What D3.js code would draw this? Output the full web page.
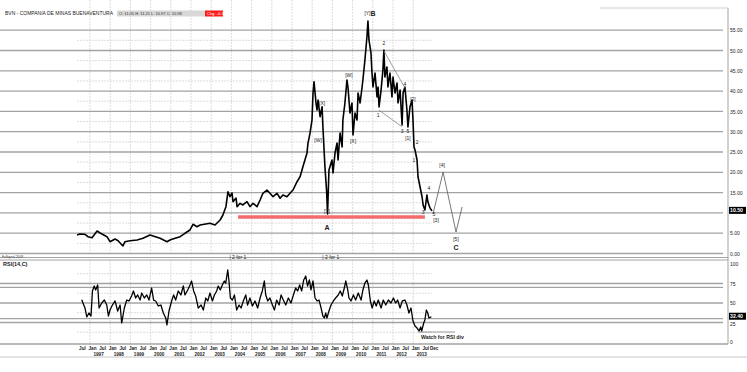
<!DOCTYPE html>
<html><head><meta charset="utf-8">
<script src="https://cdn.jsdelivr.net/npm/d3@7"></script>
<style>
body{margin:0;background:#fff}
svg{display:block}
text{font-family:"Liberation Sans",Arial,sans-serif}
</style>
</head><body><svg id="c" width="747" height="372"></svg>
<script>
// ---------- data ----------
const priceYear = [1996.36,1996.50,1996.75,1996.90,1997.10,1997.35,1997.50,1997.84,1997.99,1998.24,1998.39,1998.63,1998.73,1998.98,1999.33,1999.62,1999.97,2000.12,2000.47,2000.81,2000.96,2001.21,2001.46,2001.70,2001.95,2002.10,2002.30,2002.45,2002.94,2003.19,2003.44,2003.58,2003.73,2003.83,2003.93,2004.03,2004.08,2004.23,2004.28,2004.43,2004.57,2004.77,2004.92,2005.07,2005.27,2005.42,2005.56,2005.76,2005.91,2006.06,2006.26,2006.41,2006.55,2006.75,2006.90,2007.05,2007.25,2007.40,2007.54,2007.74,2007.79,2007.89,2007.99,2008.04,2008.09,2008.19,2008.24,2008.29,2008.39,2008.49,2008.53,2008.63,2008.71,2008.76,2008.83,2008.98,2009.03,2009.13,2009.23,2009.28,2009.38,2009.48,2009.52,2009.62,2009.72,2009.77,2009.87,2009.97,2010.02,2010.12,2010.22,2010.27,2010.37,2010.47,2010.51,2010.61,2010.71,2010.76,2010.81,2010.91,2010.96,2011.01,2011.11,2011.21,2011.26,2011.31,2011.41,2011.50,2011.55,2011.60,2011.70,2011.75,2011.85,2011.95,2012.00,2012.10,2012.20,2012.25,2012.35,2012.45,2012.50,2012.59,2012.69,2012.74,2012.84,2012.94,2012.99,2013.04,2013.09,2013.19,2013.24,2013.34,2013.44,2013.49,2013.58,2013.68,2013.73,2013.83,2013.93];
const priceClose = [4.56,4.80,4.73,4.14,3.89,5.54,5.05,4.14,2.91,3.57,3.15,1.85,2.91,3.15,3.33,3.74,4.56,4.31,3.74,2.91,3.33,3.74,4.14,4.98,5.79,7.19,6.60,7.02,7.44,7.02,8.25,9.48,11.53,15.22,13.99,14.90,12.76,13.67,11.53,12.36,11.95,12.76,11.53,12.36,11.53,13.18,14.83,15.64,14.83,13.99,14.83,13.60,14.41,13.99,14.83,15.64,17.68,18.92,21.38,24.68,27.14,29.61,32.88,39.46,42.32,37.00,35.34,37.81,33.69,36.16,31.23,21.38,15.64,9.73,20.57,23.03,19.83,24.75,27.22,23.03,29.68,26.23,32.88,37.07,42.73,41.01,34.61,37.07,29.19,34.61,32.88,39.53,37.07,41.01,42.73,47.66,53.33,57.27,52.59,49.38,44.46,41.01,44.46,38.55,41.01,36.08,40.27,45.20,50.12,43.47,45.94,41.01,44.46,38.55,43.47,39.53,41.99,37.07,40.27,31.65,39.53,41.01,35.34,31.16,36.08,37.81,32.88,26.23,25.49,23.03,18.84,16.38,13.92,11.95,10.71,14.41,12.68,11.21,10.50];

const rsiYear = [1996.59,1996.75,1996.84,1996.95,1997.05,1997.12,1997.21,1997.28,1997.38,1997.45,1997.58,1997.71,1997.83,1997.91,1997.99,1998.11,1998.24,1998.37,1998.49,1998.57,1998.70,1998.82,1998.93,1999.06,1999.15,1999.26,1999.36,1999.48,1999.56,1999.69,1999.81,1999.92,2000.05,2000.15,2000.25,2000.38,2000.51,2000.63,2000.75,2000.81,2000.91,2001.04,2001.14,2001.24,2001.37,2001.50,2001.62,2001.70,2001.84,2001.95,2002.03,2002.13,2002.23,2002.36,2002.50,2002.61,2002.73,2002.83,2002.94,2003.06,2003.16,2003.27,2003.35,2003.45,2003.55,2003.65,2003.72,2003.82,2003.88,2003.95,2004.05,2004.15,2004.26,2004.38,2004.48,2004.59,2004.71,2004.80,2004.92,2005.04,2005.17,2005.30,2005.42,2005.53,2005.63,2005.70,2005.80,2005.91,2006.03,2006.13,2006.24,2006.36,2006.46,2006.57,2006.69,2006.82,2006.95,2007.07,2007.18,2007.28,2007.38,2007.48,2007.58,2007.68,2007.77,2007.86,2007.94,2008.04,2008.14,2008.24,2008.34,2008.44,2008.53,2008.60,2008.67,2008.73,2008.83,2008.93,2009.05,2009.16,2009.29,2009.39,2009.49,2009.59,2009.66,2009.76,2009.82,2009.92,2010.04,2010.15,2010.28,2010.42,2010.51,2010.61,2010.71,2010.78,2010.88,2010.97,2011.07,2011.17,2011.27,2011.41,2011.52,2011.64,2011.77,2011.90,2012.02,2012.13,2012.23,2012.35,2012.46,2012.59,2012.69,2012.79,2012.89,2012.99,2013.09,2013.19,2013.29,2013.37,2013.42,2013.52,2013.58,2013.65,2013.72,2013.78,2013.90];
const rsiValue = [54.2,43.6,32.1,37.2,33.3,65.4,71.8,66.7,73.1,43.6,50.0,53.8,47.4,33.3,41.0,47.4,52.6,39.7,47.4,24.4,43.6,53.8,52.6,59.0,65.4,56.4,60.3,53.8,62.8,56.4,60.3,53.8,69.2,53.8,52.6,46.2,47.4,37.2,30.8,21.8,39.7,52.6,60.3,53.8,65.4,60.3,71.8,60.3,66.7,73.1,78.2,65.4,59.0,43.6,47.4,41.0,56.4,52.6,62.8,52.6,60.3,65.4,71.8,66.7,73.1,78.2,75.6,92.3,78.2,56.4,53.8,60.3,41.0,47.4,43.6,52.6,60.3,47.4,56.4,46.2,52.6,43.6,56.4,65.4,78.2,60.3,52.6,56.4,47.4,41.0,53.8,47.4,60.3,53.8,47.4,56.4,50.0,60.3,69.2,65.4,73.1,65.4,79.5,84.6,71.8,79.5,66.7,78.2,56.4,52.6,53.8,43.6,33.3,30.8,37.2,30.8,39.7,47.4,52.6,56.4,60.3,65.4,59.0,69.2,78.2,66.7,56.4,52.6,60.3,53.8,62.8,53.8,66.7,75.6,79.5,73.1,52.6,43.6,52.6,46.2,53.8,43.6,53.8,47.4,53.8,50.0,56.4,50.0,53.8,43.6,52.6,53.8,47.4,37.2,43.6,26.9,20.5,17.9,14.1,19.2,14.1,24.4,28.2,41.0,37.2,30.8,32.4];

const priceTicks = [0,5,10,15,20,25,30,35,40,45,50,55];
const priceMinor = [2.5,7.5,12.5,17.5,22.5,27.5,32.5,37.5,42.5,47.5,52.5];
const rsiTicks = [0,25,50,75,100];
const rsiLevels = [25,30,50,70,75];
const rsiMinor = [12.5,37.5,62.5,87.5];
const yearLabels = [1997,1998,1999,2000,2001,2002,2003,2004,2005,2006,2007,2008,2009,2010,2011,2012,2013];

const waveLabels = [
 {t:"[W]",yr:2008.29,v:27.7},{t:"[X]",yr:2008.49,v:36.8},{t:"[Y]",yr:2008.73,v:10.2},
 {t:"[W]",yr:2009.82,v:43.7},{t:"[X]",yr:2010.02,v:27.5},
 {t:"1",yr:2011.26,v:33.9},{t:"2",yr:2011.55,v:51.6},{t:"3",yr:2012.45,v:29.9},{t:"4",yr:2012.59,v:41.5},
 {t:"5",yr:2012.74,v:29.9},{t:"[1]",yr:2012.74,v:28.3},{t:"[2]",yr:2012.99,v:37.8},
 {t:"1",yr:2013.04,v:22.8},{t:"2",yr:2013.19,v:27.2},{t:"3",yr:2013.49,v:10.0},{t:"4",yr:2013.78,v:15.9},
 {t:"5",yr:2014.03,v:9.5},{t:"[3]",yr:2014.13,v:8.0},{t:"[4]",yr:2014.43,v:21.6},{t:"[5]",yr:2015.12,v:3.3}
];
const bigLabels = [{t:"A",yr:2008.73,v:6.2},{t:"C",yr:2015.12,v:1.4}];
const projYear = [2013.98,2014.48,2015.12,2015.42];
const projValue = [9.73,20.07,5.30,11.45];
const triUpper = [[2011.55,49.9],[2012.59,40.8]];
const triLower = [[2011.31,35.3],[2012.45,31.2]];
const supportLevel = 9.0, supportFrom = 2004.33, supportTo = 2013.58;
const rsiWatch = 12.8, rsiWatchFrom = 2013.24, rsiWatchTo = 2015.07;
const splitYears = [2003.9, 2008.5];

// ---------- drawing ----------
const svg = d3.select("#c");
const x = d3.scaleLinear().domain([1997,2013]).range([90,413.2]);
const y = d3.scaleLinear().domain([0,55]).range([253.5,30.2]);
const yr = d3.scaleLinear().domain([0,100]).range([342,264]);
const W = 723, AX = 728;
const dataX0 = x(d3.min(priceYear)), dataX1 = x(d3.max(priceYear));
const grey = "#a3a3a3";
const lastP = priceClose[priceClose.length-1];
const lastR = rsiValue[rsiValue.length-1];

// vertical dashed year grid
const vg = svg.append("g");
yearLabels.forEach(yy=>{
  vg.append("line").attr("x1",x(yy)).attr("x2",x(yy)).attr("y1",0).attr("y2",254)
    .attr("stroke","#d4d4d4").attr("stroke-dasharray","2,1").attr("stroke-width",0.8);
  vg.append("line").attr("x1",x(yy)).attr("x2",x(yy)).attr("y1",260).attr("y2",344)
    .attr("stroke","#d4d4d4").attr("stroke-dasharray","2,1").attr("stroke-width",0.8);
});
// minor dashed horizontal grid (only across data span)
priceMinor.forEach(v=>svg.append("line").attr("x1",dataX0).attr("x2",dataX1).attr("y1",y(v)).attr("y2",y(v))
  .attr("stroke","#d4d4d4").attr("stroke-dasharray","2,1").attr("stroke-width",0.8));
rsiMinor.forEach(v=>svg.append("line").attr("x1",dataX0).attr("x2",dataX1).attr("y1",yr(v)).attr("y2",yr(v))
  .attr("stroke","#d4d4d4").attr("stroke-dasharray","2,1").attr("stroke-width",0.8));

// main horizontal grid lines
priceTicks.forEach(v=>svg.append("line").attr("x1",0).attr("x2",W).attr("y1",y(v)).attr("y2",y(v))
  .attr("stroke",grey).attr("stroke-width",1.3));
rsiLevels.forEach(v=>svg.append("line").attr("x1",0).attr("x2",W).attr("y1",yr(v)).attr("y2",yr(v))
  .attr("stroke",grey).attr("stroke-width",1.3));
// panel separators
[257.5,260].forEach(yy=>svg.append("line").attr("x1",0).attr("x2",AX).attr("y1",yy).attr("y2",yy).attr("stroke",grey).attr("stroke-width",1));
svg.append("line").attr("x1",0).attr("x2",AX).attr("y1",344).attr("y2",344).attr("stroke",grey).attr("stroke-width",1.3);
svg.append("line").attr("x1",0).attr("x2",747).attr("y1",357).attr("y2",357).attr("stroke","#c8c8c8").attr("stroke-width",1);
svg.append("line").attr("x1",AX).attr("x2",AX).attr("y1",8).attr("y2",344).attr("stroke",grey).attr("stroke-width",1);
svg.append("line").attr("x1",600).attr("x2",AX).attr("y1",8).attr("y2",8).attr("stroke","#d0d0d0").attr("stroke-width",1);

// right axes (the 10.00 label is hidden under the last-price badge, as in the reference)
const ay = svg.append("g").attr("transform",`translate(${AX},0)`)
  .call(d3.axisRight(y).tickValues(priceTicks.filter(v=>Math.abs(y(v)-y(lastP))>5)).tickSize(0).tickPadding(2).tickFormat(d3.format(".2f")));
const ar = svg.append("g").attr("transform",`translate(${AX},0)`)
  .call(d3.axisRight(yr).tickValues(rsiTicks.filter(v=>Math.abs(yr(v)-yr(lastR))>5)).tickSize(0).tickPadding(2).tickFormat(d3.format("d")));
[ay,ar].forEach(g=>{g.select(".domain").remove(); g.selectAll("text").attr("font-size",5).attr("fill","#222");});
ar.selectAll(".tick").filter(d=>d===25).select("text").attr("dy","0.55em");

// bottom axis: month row
const monthTicks = [];
monthTicks.push({v:1996.5,t:"Jul"});
yearLabels.forEach(yy=>{monthTicks.push({v:yy,t:"Jan"}); monthTicks.push({v:yy+0.5,t:"Jul"});});
monthTicks.push({v:2013+11/12,t:"Dec"});
const ax = svg.append("g").attr("transform","translate(0,344)")
  .call(d3.axisBottom(x).tickValues(monthTicks.map(d=>d.v)).tickSize(0).tickPadding(3)
    .tickFormat((d,i)=>monthTicks[i].t));
ax.select(".domain").remove();
ax.selectAll("text").attr("font-size",4.6).attr("font-weight","bold").attr("fill","#222").attr("dx",2);
const ax2 = svg.append("g").attr("transform","translate(0,350)")
  .call(d3.axisBottom(x).tickValues(yearLabels.map(d=>d+0.4)).tickSize(0).tickPadding(3)
    .tickFormat((d,i)=>yearLabels[i]));
ax2.select(".domain").remove();
ax2.selectAll("text").attr("font-size",4.6).attr("font-weight","bold").attr("fill","#222");

// support line (red)
svg.append("line").attr("x1",x(supportFrom)).attr("x2",x(supportTo)).attr("y1",y(supportLevel)).attr("y2",y(supportLevel))
  .attr("stroke","#f36b6b").attr("stroke-width",3.5);

// price line
const pts = priceYear.map((d,i)=>[d,priceClose[i]]);
svg.append("path").datum(pts).attr("fill","none").attr("stroke","#000").attr("stroke-width",1.6)
  .attr("stroke-linejoin","round")
  .attr("d",d3.line().x(d=>x(d[0])).y(d=>y(d[1])));

// triangle lines
[triUpper,triLower].forEach(seg=>svg.append("path").datum(seg).attr("fill","none").attr("stroke","#777").attr("stroke-width",0.7)
  .attr("d",d3.line().x(d=>x(d[0])).y(d=>y(d[1]))));

// projection
svg.append("path").datum(projYear.map((d,i)=>[d,projValue[i]])).attr("fill","none").attr("stroke","#555").attr("stroke-width",0.8)
  .attr("d",d3.line().x(d=>x(d[0])).y(d=>y(d[1])));

// wave labels
waveLabels.forEach(d=>svg.append("text").attr("x",x(d.yr)).attr("y",y(d.v)).attr("text-anchor","middle")
  .attr("dominant-baseline","middle").attr("font-size",5).attr("fill","#222").text(d.t));
bigLabels.forEach(d=>svg.append("text").attr("x",x(d.yr)).attr("y",y(d.v)).attr("text-anchor","middle")
  .attr("dominant-baseline","middle").attr("font-size",7).attr("font-weight","bold").attr("fill","#222").text(d.t));
const yb = svg.append("text").attr("x",x(2010.86)).attr("y",y(58.9)).attr("text-anchor","middle").attr("dominant-baseline","middle").attr("fill","#222");
yb.append("tspan").attr("font-size",5).text("[Y]");
yb.append("tspan").attr("font-size",7).attr("font-weight","bold").text("B");

// RSI
const rp = rsiYear.map((d,i)=>[d,rsiValue[i]]);
svg.append("path").datum(rp).attr("fill","none").attr("stroke","#000").attr("stroke-width",1.3).attr("stroke-linejoin","round")
  .attr("d",d3.line().x(d=>x(d[0])).y(d=>yr(d[1])));
svg.append("line").attr("x1",x(rsiWatchFrom)).attr("x2",x(rsiWatchTo)).attr("y1",yr(rsiWatch)).attr("y2",yr(rsiWatch))
  .attr("stroke","#666").attr("stroke-width",0.7);
svg.append("text").attr("x",x(rsiWatchFrom)+3).attr("y",yr(rsiWatch)+7).attr("font-size",5.2).attr("font-weight","bold").attr("fill","#222").text("Watch for RSI div");

// split markers
splitYears.forEach(s=>{
  svg.append("text").attr("x",x(s)).attr("y",259.2).attr("font-size",5).attr("fill","#222").text("| 2 for 1");
});

// header
svg.append("text").attr("x",5).attr("y",15).attr("font-size",4.7).attr("fill","#222").attr("textLength",108).attr("lengthAdjust","spacingAndGlyphs").text("BVN - COMPANIA DE MINAS BUENAVENTURA");
svg.append("rect").attr("x",117).attr("y",10.5).attr("width",88).attr("height",6).attr("fill","#d8d8d8");
svg.append("text").attr("x",119).attr("y",15.3).attr("font-size",4).attr("fill","#333").text("O: 11.05   H: 11.21   L: 10.97   C: 10.98");
svg.append("rect").attr("x",205).attr("y",10.5).attr("width",18).attr("height",6).attr("fill","#ff1a1a");
svg.append("text").attr("x",207).attr("y",15.3).attr("font-size",4).attr("fill","#fff").text("Chg: -0.11");

// left small label / RSI label
svg.append("text").attr("x",2).attr("y",258).attr("font-size",3.3).attr("fill","#444").text("FxSignal 2009");
svg.append("text").attr("x",3).attr("y",266).attr("font-size",5.5).attr("font-weight","bold").attr("fill","#222").text("RSI(14,C)");

// last-value badges
svg.append("rect").attr("x",AX+1).attr("y",y(lastP)-4).attr("width",17).attr("height",7).attr("fill","#000");
svg.append("text").attr("x",AX+2).attr("y",y(lastP)+1.6).attr("font-size",5.2).attr("font-weight","bold").attr("fill","#fff").text(lastP.toFixed(2));
svg.append("rect").attr("x",AX+1).attr("y",yr(lastR)-4).attr("width",17).attr("height",7).attr("fill","#000");
svg.append("text").attr("x",AX+2).attr("y",yr(lastR)+1.6).attr("font-size",5.2).attr("font-weight","bold").attr("fill","#fff").text(lastR.toFixed(2));
</script>
</body></html>
